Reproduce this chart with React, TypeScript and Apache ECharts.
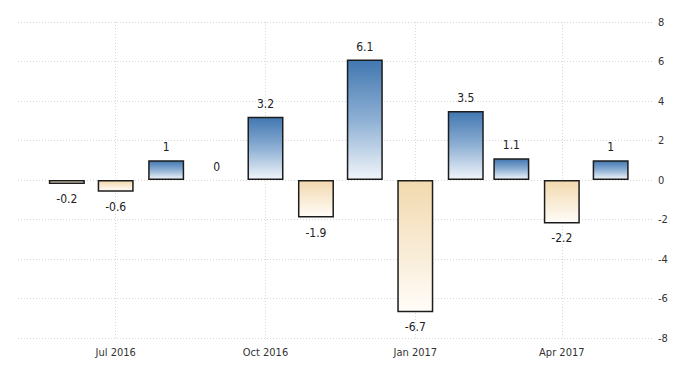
import React, { useEffect, useRef } from "react";
import * as echarts from "echarts";

const months = [
  "2016-06-01", "2016-07-01", "2016-08-01", "2016-09-01", "2016-10-01", "2016-11-01",
  "2016-12-01", "2017-01-01", "2017-02-01", "2017-03-01", "2017-04-01", "2017-05-01",
];
const values = [-0.2, -0.6, 1, 0, 3.2, -1.9, 6.1, -6.7, 3.5, 1.1, -2.2, 1];
const tickDates = ["2016-07-01", "2016-10-01", "2017-01-01", "2017-04-01"];
const tickLabels = ["Jul 2016", "Oct 2016", "Jan 2017", "Apr 2017"];
const yTicks = [-8, -6, -4, -2, 0, 2, 4, 6, 8];

const FONT = "'Liberation Sans Narrow', 'DejaVu Sans Condensed', 'Liberation Sans', sans-serif";

export default function App() {
  const ref = useRef<HTMLDivElement>(null);
  useEffect(() => {
    if (!ref.current) return;
    document.body.style.margin = "0";
    const chart = echarts.init(ref.current, undefined, { renderer: "svg" });
    const ts = (d: string) => Date.UTC(+d.slice(0, 4), +d.slice(5, 7) - 1, +d.slice(8, 10));
    const tickTs = tickDates.map(ts);
    const posGrad = new echarts.graphic.LinearGradient(0, 0, 0, 1, [
      { offset: 0, color: "#4277b1" },
      { offset: 0.5, color: "#8eb0d4" },
      { offset: 1, color: "#f1f5fa" },
    ]);
    const negGrad = new echarts.graphic.LinearGradient(0, 0, 0, 1, [
      { offset: 0, color: "#f2d9ae" },
      { offset: 1, color: "#fffcf8" },
    ]);
    const data = months.map((m, i) => {
      const v = values[i];
      const pos = v >= 0;
      return {
        value: [ts(m), v],
        itemStyle: {
          color: pos ? posGrad : negGrad,
          borderColor: "#1c1c1c",
          borderWidth: v === 0 ? 0 : 1.5,
        },
        label: {
          show: true,
          position: pos ? "top" : "bottom",
          distance: pos ? 7 : 9,
          color: "#222",
        },
      };
    });
    chart.setOption({
      animation: false,
      grid: { left: 18, right: 47, top: 22, bottom: 37 },
      xAxis: {
        type: "value",
        min: ts("2016-05-02"),
        max: ts("2017-05-27"),
        axisLine: { show: false },
        axisTick: { show: false, customValues: tickTs },
        axisLabel: {
          customValues: tickTs,
          formatter: (val: number) => {
            const idx = tickTs.findIndex((t) => Math.abs(t - val) < 43200000);
            return idx >= 0 ? tickLabels[idx] : "";
          },
          color: "#333",
          fontSize: 11,
          fontFamily: FONT,
          margin: 9,
        },
        splitLine: {
          show: true,
          lineStyle: { color: "#d8d8d8", type: [1, 2], width: 1 },
        },
      },
      yAxis: {
        type: "value",
        position: "right",
        min: -8,
        max: 8,
        interval: 2,
        axisLine: { show: false },
        axisTick: { show: false },
        axisLabel: {
          color: "#333",
          fontSize: 11,
          fontFamily: FONT,
          margin: 5,
          formatter: (v: number) => (yTicks.includes(v) ? String(v) : ""),
        },
        splitLine: {
          show: true,
          lineStyle: { color: "#d8d8d8", type: [1, 2], width: 1 },
        },
      },
      series: [
        {
          type: "bar",
          barWidth: 36,
          data,
          label: {
            color: "#222",
            fontSize: 12,
            fontFamily: FONT,
            formatter: (p: any) => String(p.value[1]),
          },
        },
      ],
    });
    return () => chart.dispose();
  }, []);
  return <div ref={ref} style={{ width: 700, height: 375 }} />;
}
